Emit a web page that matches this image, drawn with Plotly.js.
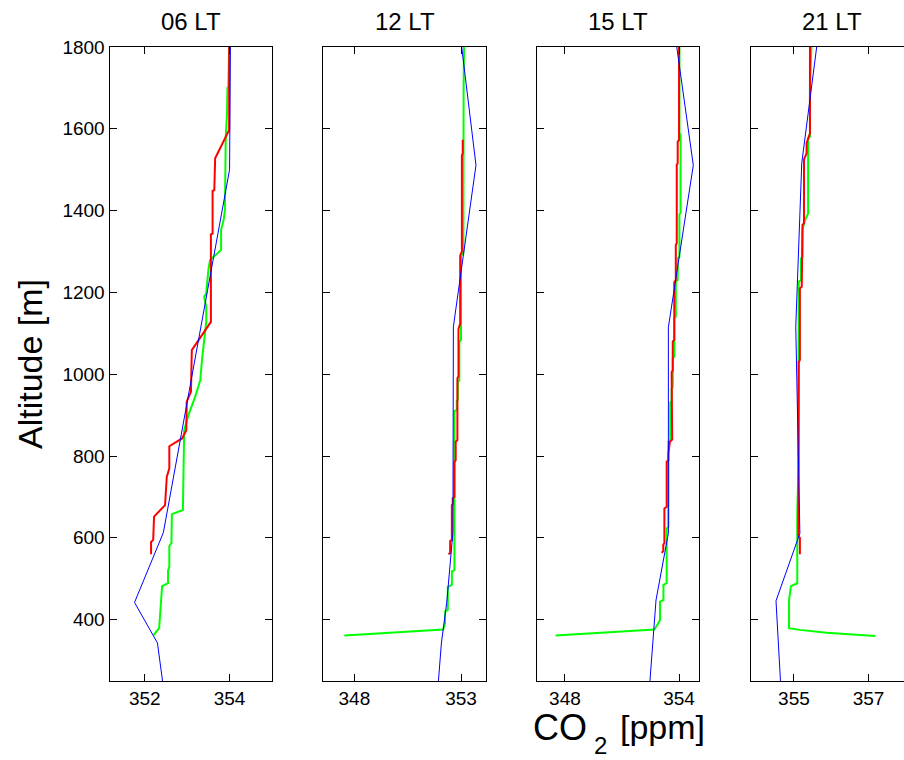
<!DOCTYPE html>
<html>
<head>
<meta charset="utf-8">
<script src="https://cdn.plot.ly/plotly-3.0.1.min.js"></script>
<style>html,body{margin:0;padding:0;background:#fff;}#chart{width:904px;height:760px;}</style>
</head>
<body>
<div id="chart"></div>
<script>
// ---- Data (altitude in m, CO2 in ppm) ----
const panelTitles = ['06 LT', '12 LT', '15 LT', '21 LT'];
const xTickVals = [[352, 354], [348, 353], [348, 354], [355, 357]];
const yTickVals = [400, 600, 800, 1000, 1200, 1400, 1600, 1800];

// 06 LT
const red06Alt = [1800, 1597, 1528, 1450, 1448, 1344, 1342, 1128, 1059, 957, 933, 863, 843, 824, 770, 749, 680, 652, 595, 590, 560];
const red06Co2 = [353.99, 353.99, 353.66, 353.64, 353.60, 353.60, 353.56, 353.56, 353.11, 353.09, 352.99, 352.98, 352.88, 352.58, 352.58, 352.52, 352.48, 352.22, 352.20, 352.15, 352.15];
const green06Alt = [1800, 1703, 1700, 1638, 1581, 1401, 1377, 1353, 1304, 1279, 1255, 1198, 1189, 1165, 1128, 1084, 1035, 986, 945, 900, 863, 668, 658, 587, 580, 529, 520, 489, 482, 379, 362];
const green06Co2 = [353.99, 353.97, 353.95, 353.94, 353.91, 353.89, 353.86, 353.80, 353.80, 353.54, 353.50, 353.45, 353.40, 353.45, 353.45, 353.40, 353.35, 353.31, 353.19, 353.03, 352.93, 352.90, 352.64, 352.63, 352.58, 352.58, 352.55, 352.55, 352.41, 352.34, 352.21];
const blue06Alt = [1800, 1500, 613, 442, 343, 250];
const blue06Co2 = [354.02, 354.00, 352.44, 351.76, 352.30, 352.42];

// 12 LT
const red12Alt = [1573, 1540, 1535, 1300, 1290, 1124, 1110, 995, 990, 839, 835, 790, 785, 700, 697, 683, 680, 595, 592, 563, 560];
const red12Co2 = [353.08, 353.08, 353.04, 353.04, 352.96, 352.96, 352.88, 352.88, 352.83, 352.83, 352.75, 352.75, 352.69, 352.69, 352.61, 352.61, 352.57, 352.57, 352.49, 352.49, 352.41];
const green12Alt = [1800, 1700, 1296, 1290, 1084, 1080, 985, 980, 937, 935, 913, 910, 521, 518, 485, 480, 424, 420, 391, 376, 361];
const green12Co2 = [353.14, 353.12, 353.11, 353.00, 353.00, 352.92, 352.92, 352.85, 352.85, 352.80, 352.80, 352.69, 352.69, 352.57, 352.57, 352.38, 352.38, 352.25, 352.25, 352.16, 347.53];
const blue12Alt = [1800, 1511, 1116, 613, 442, 343, 250];
const blue12Co2 = [353.03, 353.70, 352.64, 352.62, 352.33, 352.08, 351.94];

// 15 LT
const red15Alt = [1800, 1573, 1568, 1516, 1512, 1320, 1316, 1230, 1225, 1084, 1080, 1010, 1005, 855, 850, 840, 835, 806, 790, 786, 676, 672, 587, 583, 568, 563];
const red15Co2 = [354.00, 354.00, 353.93, 353.93, 353.88, 353.88, 353.83, 353.83, 353.75, 353.75, 353.67, 353.67, 353.61, 353.61, 353.64, 353.64, 353.52, 353.44, 353.44, 353.35, 353.35, 353.23, 353.23, 353.17, 353.17, 353.09];
const green15Alt = [1800, 1590, 1585, 1395, 1390, 1287, 1283, 1230, 1226, 1141, 1137, 1043, 1039, 969, 965, 935, 930, 839, 835, 627, 623, 489, 485, 448, 444, 399, 391, 376, 361];
const green15Co2 = [354.02, 354.02, 354.08, 354.08, 354.02, 354.02, 353.93, 353.93, 353.83, 353.83, 353.75, 353.75, 353.67, 353.67, 353.61, 353.61, 353.54, 353.54, 353.44, 353.44, 353.35, 353.35, 353.18, 353.18, 353.00, 353.00, 352.91, 352.70, 347.51];
const blue15Alt = [1800, 1511, 1115, 611, 448, 343, 250];
const blue15Co2 = [353.88, 354.75, 353.44, 353.44, 352.79, 352.64, 352.47];

// 21 LT
const red21Alt = [1800, 1589, 1565, 1540, 1525, 1369, 1365, 1287, 1283, 1214, 1210, 1035, 1030, 766, 660, 603, 600, 560];
const red21Co2 = [355.43, 355.43, 355.34, 355.34, 355.27, 355.27, 355.23, 355.23, 355.21, 355.21, 355.16, 355.16, 355.13, 355.13, 355.12, 355.12, 355.16, 355.16];
const green21Alt = [1800, 1711, 1705, 1581, 1577, 1393, 1375, 1353, 1287, 1283, 1230, 1226, 766, 660, 489, 482, 448, 379, 375, 368, 361, 360];
const green21Co2 = [355.47, 355.45, 355.43, 355.43, 355.38, 355.38, 355.29, 355.23, 355.23, 355.19, 355.19, 355.13, 355.12, 355.09, 355.09, 354.92, 354.87, 354.87, 355.16, 355.88, 356.95, 357.18];
const blue21Alt = [1800, 1516, 1116, 611, 446, 250];
const blue21Co2 = [355.61, 355.21, 355.05, 355.16, 354.52, 354.64];

// ---- Layout geometry ----
const W = 904, H = 760;
const panelsPx = [[109.5, 272], [323, 486], [537, 699], [751, 904]];
const xRanges = [[351.17, 355.0], [346.53, 354.17], [346.53, 355.05], [353.85, 357.95]];
const yTop = 47, yBot = 681;

const series = [
  {red: [red06Alt, red06Co2], green: [green06Alt, green06Co2], blue: [blue06Alt, blue06Co2]},
  {red: [red12Alt, red12Co2], green: [green12Alt, green12Co2], blue: [blue12Alt, blue12Co2]},
  {red: [red15Alt, red15Co2], green: [green15Alt, green15Co2], blue: [blue15Alt, blue15Co2]},
  {red: [red21Alt, red21Co2], green: [green21Alt, green21Co2], blue: [blue21Alt, blue21Co2]}
];

const traces = [];
const layout = {
  width: W, height: H,
  margin: {l: 0, r: 0, t: 0, b: 0},
  paper_bgcolor: '#ffffff', plot_bgcolor: '#ffffff',
  showlegend: false,
  font: {family: 'Liberation Sans, Arial, sans-serif', color: '#000000', size: 19},
  annotations: []
};

series.forEach((s, i) => {
  const n = i + 1;
  const xa = n === 1 ? 'x' : 'x' + n;
  const ya = n === 1 ? 'y' : 'y' + n;
  const specs = [['green', '#00ff00', 2], ['red', '#ff0000', 2], ['blue', '#0000ff', 1]];
  specs.forEach(([key, col, w]) => {
    traces.push({
      type: 'scatter', mode: 'lines',
      x: s[key][1], y: s[key][0],
      xaxis: xa, yaxis: ya,
      line: {color: col, width: w},
      hoverinfo: 'skip'
    });
  });
  const dom = [panelsPx[i][0] / W, panelsPx[i][1] / W];
  layout[n === 1 ? 'xaxis' : 'xaxis' + n] = {
    domain: dom, range: xRanges[i], anchor: ya,
    tickmode: 'array', tickvals: xTickVals[i], ticktext: xTickVals[i].map(String),
    ticks: 'inside', ticklen: 7, tickwidth: 1, tickcolor: '#000',
    showline: true, linecolor: '#000', linewidth: 1, mirror: 'ticks',
    showgrid: false, zeroline: false, fixedrange: true,
    tickfont: {size: 19}
  };
  layout[n === 1 ? 'yaxis' : 'yaxis' + n] = {
    domain: [1 - yBot / H, 1 - yTop / H], range: [250, 1800], anchor: xa,
    tickmode: 'array', tickvals: yTickVals,
    showticklabels: n === 1,
    ticks: 'inside', ticklen: 7, tickwidth: 1, tickcolor: '#000',
    showline: true, linecolor: '#000', linewidth: 1, mirror: n === 4 ? false : 'ticks',
    showgrid: false, zeroline: false, fixedrange: true,
    tickfont: {size: 19}
  };
  layout.annotations.push({
    text: panelTitles[i], xref: 'paper', yref: 'paper',
    x: [190.5, 404.5, 618, 832][i] / W, y: 1 - 21 / H,
    xanchor: 'center', yanchor: 'middle', showarrow: false,
    font: {size: 24}
  });
});

layout.annotations.push({
  text: 'Altitude [m]', xref: 'paper', yref: 'paper',
  x: 30 / W, y: 1 - 364 / H, xanchor: 'center', yanchor: 'middle',
  textangle: -90, showarrow: false, font: {size: 34}
});
// x-axis title: CO2 [ppm] with a low subscript, built from three text pieces
layout.annotations.push({
  text: 'CO', xref: 'paper', yref: 'paper',
  x: 532 / W, y: 1 - 727 / H, xanchor: 'left', yanchor: 'middle',
  showarrow: false, borderpad: 0, font: {size: 36}
});
layout.annotations.push({
  text: '2', xref: 'paper', yref: 'paper',
  x: 593 / W, y: 0, xanchor: 'left', yanchor: 'bottom',
  showarrow: false, borderpad: 0, font: {size: 24}
});
layout.annotations.push({
  text: '[ppm]', xref: 'paper', yref: 'paper',
  x: 619 / W, y: 1 - 727 / H, xanchor: 'left', yanchor: 'middle',
  showarrow: false, borderpad: 0, font: {size: 34}
});

Plotly.newPlot('chart', traces, layout, {staticPlot: true, displayModeBar: false});
</script>
</body>
</html>
